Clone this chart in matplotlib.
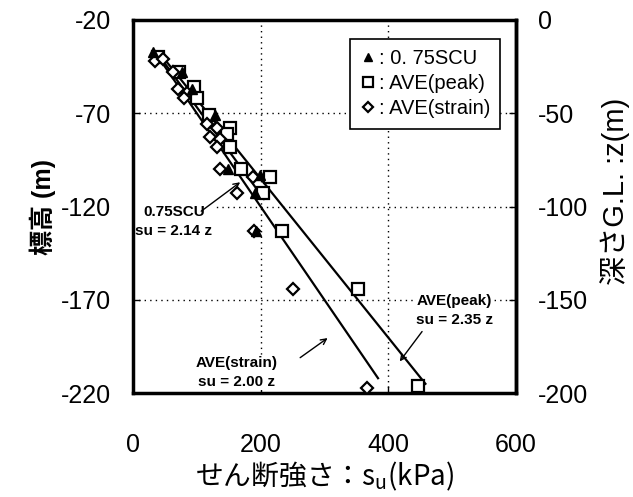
import numpy as np
import matplotlib
matplotlib.use("Agg")
import matplotlib.pyplot as plt

plt.rcParams['font.family'] = ['Liberation Sans', 'Noto Sans CJK JP', 'DejaVu Sans']
plt.rcParams['axes.unicode_minus'] = False
plt.rcParams['mathtext.fontset'] = 'custom'
plt.rcParams['mathtext.rm'] = 'Noto Sans CJK JP'

# 試験結果 (su: kPa, 標高: m)
scu_su = [31, 77, 93, 128, 149, 199, 191, 193]
scu_el = [-37, -48, -57, -71, -100, -103, -113, -133]

peak_su = [40, 72, 95, 100, 119, 152, 147, 152, 169, 215, 204, 233, 352, 447]
peak_el = [-40, -48, -56, -62, -71, -78, -81, -88, -100, -104, -113, -133, -164, -216]

strain_su = [34, 47, 63, 70, 84, 80, 116, 131, 121, 136, 131, 136, 188, 163, 190, 251, 366]
strain_el = [-42, -41, -48, -57, -59, -62, -76, -78, -83, -84, -88, -100, -104, -113, -133, -164, -217]

# 近似直線 su = k z (z: 深さ)
line_k = [2.14, 2.35, 2.00]
line_z_top = [17, 17, 17]
line_z_bot = [96, 195, 192]

GL = -20  # 地表面の標高

fig = plt.figure(figsize=(6.33, 4.97), dpi=100)
ax = fig.add_axes([0.210, 0.209, 0.605, 0.751])

for k, z0, z1 in zip(line_k, line_z_top, line_z_bot):
    z = np.array([z0, z1])
    ax.plot(k * z, GL - z, color='black', lw=1.6, zorder=2)

ax.plot(scu_su, scu_el, linestyle='none', marker='^', ms=7.5, color='black',
        label=': 0. 75SCU', zorder=4)
ax.plot(peak_su, peak_el, linestyle='none', marker='s', ms=8.5, mfc='white',
        mec='black', mew=1.6, label=': AVE(peak)', zorder=3)
ax.plot(strain_su, strain_el, linestyle='none', marker='D', ms=6.5, mfc='white',
        mec='black', mew=1.6, label=': AVE(strain)', zorder=3)

ax.set_xlim(0, 600)
ax.set_ylim(-220, -20)
ax.set_xticks([0, 200, 400, 600])
ax.set_yticks([-220, -170, -120, -70, -20])
ax.grid(True, which='major', linestyle=(0, (1, 3)), color='black', lw=1.0)
ax.tick_params(direction='in', length=5, width=1.0, labelsize=18)
ax.tick_params(axis='x', pad=29)
ax.tick_params(axis='y', pad=16)
for sp in ax.spines.values():
    sp.set_linewidth(2.5)

sec = ax.secondary_yaxis('right', functions=(lambda e: e - GL, lambda d: d + GL))
sec.set_yticks([0, -50, -100, -150, -200])
sec.tick_params(direction='in', length=5, width=1.0, labelsize=18, pad=16)
sec.spines['right'].set_linewidth(2.5)

ax.set_xlabel('せん断強さ：s$_\\mathregular{u}$(kPa)', fontsize=20, labelpad=2,
              family='Noto Sans CJK JP')
ax.set_ylabel('標高 (m)', fontsize=18, fontweight='bold', labelpad=3)
fig.text(0.971, 0.614, '深さG.L. :z(m)', fontsize=21, rotation=90,
         ha='center', va='center')

leg = ax.legend(loc='upper right', bbox_to_anchor=(0.985, 0.975), fontsize=14.5,
                frameon=True, fancybox=False, edgecolor='black', handlelength=0.7,
                handletextpad=0.2, borderpad=0.5, labelspacing=0.3, markerscale=0.8)
leg.get_frame().set_linewidth(1.2)
leg.get_frame().set_alpha(1)

# 近似式のラベルと矢印
txt = dict(fontsize=11, fontweight='bold', ha='center', va='center', linespacing=1.45,
           bbox=dict(facecolor='white', edgecolor='none', pad=1), zorder=2.2)
arw = dict(arrowstyle='->', color='black', lw=1.0, shrinkA=0, shrinkB=0)

ax.text(64, -128, '0.75SCU\nsu = 2.14 z', **txt)
ax.annotate('', xy=(168, -107), xytext=(107, -122.5), arrowprops=arw)

ax.text(163, -209, 'AVE(strain)\nsu = 2.00 z', **txt)
ax.annotate('', xy=(305, -190.5), xytext=(262, -201), arrowprops=arw)

ax.text(504, -175.5, 'AVE(peak)\nsu = 2.35 z', **txt)
ax.annotate('', xy=(418, -203), xytext=(453, -187), arrowprops=arw)

fig.savefig('out.png', dpi=100)
